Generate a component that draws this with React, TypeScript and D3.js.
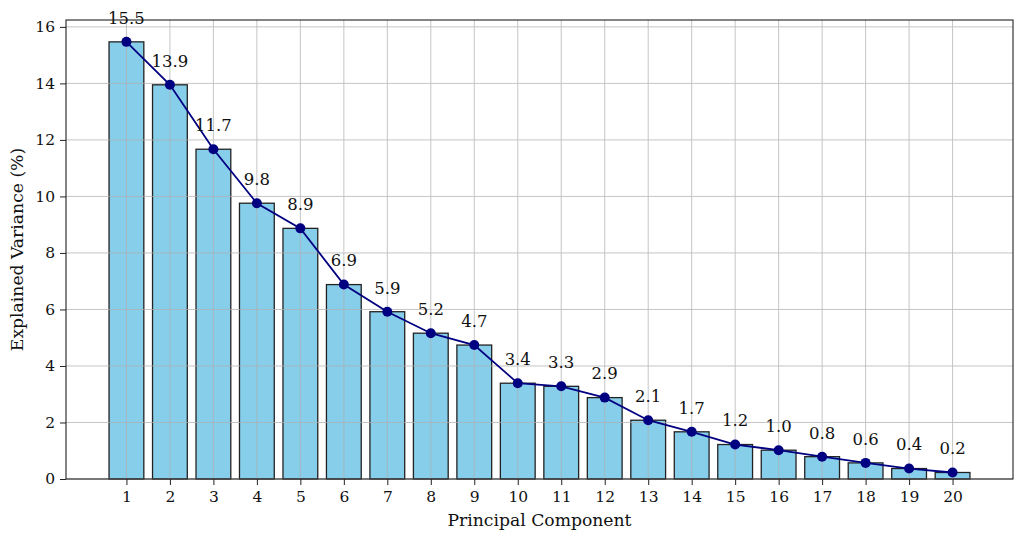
import React, { useEffect, useRef } from "react";
import * as d3 from "d3";

const components = d3.range(1, 21);
const variance = [
  15.47, 13.95, 11.67, 9.76, 8.87, 6.88, 5.92, 5.16, 4.74, 3.39, 3.28, 2.88,
  2.08, 1.67, 1.22, 1.02, 0.79, 0.57, 0.37, 0.23,
];
const yTicks = [0, 2, 4, 6, 8, 10, 12, 14, 16];

const W = 1024;
const H = 541;
const margin = { left: 66, right: 11, top: 20, bottom: 62 };

const App: React.FC = () => {
  const svgRef = useRef<SVGSVGElement>(null);

  useEffect(() => {
    const svg = d3.select(svgRef.current);
    svg.selectAll("*").remove();

    const x = d3
      .scaleLinear()
      .domain([-0.39, 21.39])
      .range([margin.left, W - margin.right]);
    const yMax = d3.max(variance)! * 1.05;
    const y = d3
      .scaleLinear()
      .domain([0, yMax])
      .range([H - margin.bottom, margin.top]);

    const font = "'DejaVu Serif', serif";
    const g = svg.append("g");

    // bars
    g.append("g")
      .selectAll("rect")
      .data(variance)
      .join("rect")
      .attr("x", (d, i) => x(components[i] - 0.4))
      .attr("width", (d, i) => x(components[i] + 0.4) - x(components[i] - 0.4))
      .attr("y", (d) => y(d))
      .attr("height", (d) => y(0) - y(d))
      .attr("fill", "#87ceeb")
      .attr("stroke", "#222")
      .attr("stroke-width", 1.3);

    // grid on top of bars
    const grid = g.append("g").attr("stroke", "#b0b0b0").attr("stroke-width", 0.9).attr("opacity", 0.8);
    grid
      .selectAll("line.v")
      .data(components)
      .join("line")
      .attr("x1", (d) => x(d))
      .attr("x2", (d) => x(d))
      .attr("y1", y(yMax))
      .attr("y2", y(0));
    grid
      .selectAll("line.h")
      .data(yTicks)
      .join("line")
      .attr("x1", x.range()[0])
      .attr("x2", x.range()[1])
      .attr("y1", (d) => y(d))
      .attr("y2", (d) => y(d));

    // line + markers
    const line = d3
      .line<number>()
      .x((d, i) => x(components[i]))
      .y((d) => y(d));
    g.append("path")
      .datum(variance)
      .attr("d", line)
      .attr("fill", "none")
      .attr("stroke", "#000080")
      .attr("stroke-width", 1.8);
    g.append("g")
      .selectAll("circle")
      .data(variance)
      .join("circle")
      .attr("cx", (d, i) => x(components[i]))
      .attr("cy", (d) => y(d))
      .attr("r", 5)
      .attr("fill", "#000080");

    // value labels
    g.append("g")
      .attr("font-family", font)
      .attr("font-size", 16.5)
      .attr("text-anchor", "middle")
      .attr("fill", "#111")
      .selectAll("text")
      .data(variance)
      .join("text")
      .attr("x", (d, i) => x(components[i]))
      .attr("y", (d) => y(d + 0.5) - 4)
      .text((d) => d.toFixed(1));

    // frame
    g.append("rect")
      .attr("x", x.range()[0])
      .attr("y", y(yMax))
      .attr("width", x.range()[1] - x.range()[0])
      .attr("height", y(0) - y(yMax))
      .attr("fill", "none")
      .attr("stroke", "#222")
      .attr("stroke-width", 1.1);

    // axes
    const xAxis = g
      .append("g")
      .attr("transform", `translate(0,${y(0)})`)
      .call(d3.axisBottom(x).tickValues(components).tickSize(6).tickPadding(6).tickFormat(d3.format("d")));
    const yAxis = g
      .append("g")
      .attr("transform", `translate(${x.range()[0]},0)`)
      .call(d3.axisLeft(y).tickValues(yTicks).tickSize(6).tickPadding(5).tickFormat(d3.format("d")));
    [xAxis, yAxis].forEach((a) => {
      a.select(".domain").remove();
      a.selectAll("line").attr("stroke", "#222");
      a.selectAll("text").attr("font-family", font).attr("font-size", 15.5).attr("fill", "#111");
    });

    g.append("text")
      .attr("x", (x.range()[0] + x.range()[1]) / 2)
      .attr("y", 526)
      .attr("text-anchor", "middle")
      .attr("font-family", font)
      .attr("font-size", 17.2)
      .attr("fill", "#111")
      .text("Principal Component");
    g.append("text")
      .attr("transform", `translate(23,${(y(0) + y(yMax)) / 2}) rotate(-90)`)
      .attr("text-anchor", "middle")
      .attr("font-family", font)
      .attr("font-size", 17.2)
      .attr("fill", "#111")
      .text("Explained Variance (%)");
  }, []);

  return (
    <div style={{ position: "absolute", left: 0, top: 0 }}>
      <svg ref={svgRef} width={W} height={H} style={{ display: "block", background: "#fff" }}></svg>
    </div>
  );
};

export default App;
